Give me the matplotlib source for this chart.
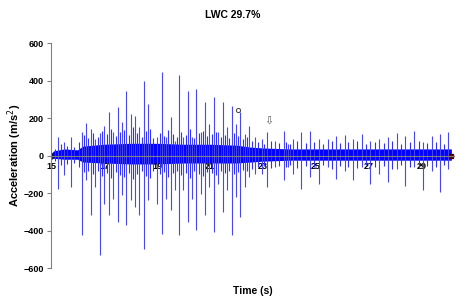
import matplotlib
matplotlib.use("Agg")
import matplotlib.pyplot as plt

plt.rcParams['font.family'] = ['Liberation Sans', 'DejaVu Sans']

# -------------------------------
# data
# -------------------------------
title = "LWC 29.7%"
x_label = "Time (s)"
y_label = "Acceleration (m/s$^2$)"
x_ticks = [15, 17, 19, 21, 23, 25, 27, 29]
y_ticks = [-600, -400, -200, 0, 200, 400, 600]

# big impact spikes: time (s), top and bottom of each spike (m/s2)
spike_t = [15.28, 15.49, 15.75, 16.16, 16.32, 16.50, 16.66, 16.85, 17.01, 17.18,
           17.35, 17.52, 17.68, 17.84, 18.02, 18.18, 18.33, 18.51, 18.67, 18.99,
           19.18, 19.34, 19.52, 19.68, 19.83, 19.99, 20.16, 20.31, 20.48, 20.66,
           20.81, 20.97, 21.14, 21.31, 21.49, 21.64, 21.82, 21.97, 22.14, 22.32,
           22.48, 22.70, 22.95, 23.14, 23.45, 23.77, 23.93, 24.11, 24.42, 24.77,
           25.09, 25.44, 25.75, 26.07, 26.38, 26.72, 27.04, 27.38, 27.71, 28.05,
           28.36, 28.71, 29.03, 29.37, 29.68, 29.99]
spike_hi = [98, 71, 101, 124, 172, 142, 89, 119, 160, 230,
            124, 257, 177, 346, 221, 213, 150, 399, 275, 98,
            443, 98, 204, 80, 431, 98, 346, 98, 355, 124,
            284, 168, 310, 124, 284, 150, 266, 168, 230, 115,
            160, 98, 89, 124, 80, 130, 62, 89, 124, 133,
            89, 89, 106, 111, 89, 115, 80, 89, 98, 119,
            106, 130, 71, 106, 115, 124]
spike_lo = [-177, -106, -168, -426, -133, -319, -168, -532, -257, -319,
            -230, -355, -213, -372, -239, -275, -319, -496, -239, -257,
            -417, -230, -293, -186, -426, -186, -355, -230, -399, -204,
            -319, -168, -408, -151, -301, -186, -426, -222, -328, -168,
            -115, -97, -97, -168, -62, -133, -62, -97, -177, -115,
            -151, -62, -124, -80, -133, -62, -151, -97, -142, -71,
            -160, -62, -186, -80, -195, -71]

# smaller bursts sitting in the noise band
minor_t = [15.15, 15.38, 15.62, 15.88, 16.05, 16.24, 16.41, 16.58, 16.76, 16.93,
           17.10, 17.27, 17.44, 17.60, 17.76, 17.93, 18.10, 18.26, 18.42, 18.59,
           18.75, 18.85, 19.10, 19.26, 19.43, 19.60, 19.76, 19.91, 20.08, 20.24,
           20.40, 20.57, 20.73, 20.89, 21.06, 21.22, 21.40, 21.56, 21.73, 21.90,
           22.06, 22.23, 22.40, 22.59, 22.82, 23.05, 23.30, 23.61, 23.85, 24.02,
           24.26, 24.60, 24.93, 25.26, 25.60, 25.91, 26.22, 26.55, 26.88, 27.21,
           27.55, 27.88, 28.20, 28.53, 28.87, 29.20, 29.52, 29.84]
minor_hi = [35, 60, 50, 45, 70, 110, 95, 120, 100, 130,
            115, 140, 105, 125, 135, 110, 150, 120, 100, 130,
            140, 95, 120, 105, 135, 115, 100, 125, 110, 140,
            95, 120, 130, 105, 115, 125, 100, 110, 95, 120,
            105, 90, 100, 80, 70, 60, 75, 65, 70, 60,
            75, 65, 70, 60, 80, 65, 70, 75, 60, 70,
            65, 80, 60, 70, 75, 65, 70, 60]
minor_lo = [-30, -50, -45, -40, -60, -90, -80, -100, -85, -110,
            -95, -120, -90, -105, -115, -95, -125, -100, -85, -110,
            -120, -80, -100, -90, -115, -95, -85, -105, -95, -120,
            -80, -100, -110, -90, -95, -105, -85, -95, -80, -100,
            -90, -75, -85, -70, -60, -55, -65, -55, -60, -50,
            -65, -55, -60, -50, -70, -55, -60, -65, -50, -60,
            -55, -70, -50, -60, -65, -55, -60, -50]

# dense vibration band around zero (upper / lower envelope)
band_t = [15.0, 15.1, 15.5, 16.0, 16.2, 17.0, 18.0, 19.0, 20.0, 21.0,
          22.0, 22.5, 23.0, 24.0, 25.0, 26.0, 27.0, 28.0, 29.0, 30.1]
band_hi = [10, 25, 35, 30, 50, 60, 65, 65, 60, 60,
           55, 45, 40, 35, 35, 35, 35, 35, 35, 35]
band_lo = [-10, -15, -20, -20, -35, -40, -45, -45, -40, -40,
           -40, -35, -30, -25, -25, -25, -25, -25, -25, -25]

# -------------------------------
# figure
# -------------------------------
fig = plt.figure(figsize=(4.65, 2.98), dpi=100)
ax = fig.add_axes([51 / 465, 30 / 298, 403 / 465, 225 / 298])

ax.vlines(spike_t, spike_lo, spike_hi, color="#4848ee", lw=0.8)
ax.vlines(minor_t, minor_lo, minor_hi, color="#3030f0", lw=0.8)
ax.fill_between(band_t, band_lo, band_hi, color="#0000ff", lw=0)

# markers at start / end and the two notes
ax.plot(15.0, 0, marker="o", ms=3.5, color="#101060")
ax.plot(30.1, 0, marker="s", ms=3, color="#500000")
ax.plot(22.06, 245, marker="o", ms=3, mfc="white", mec="#404040", mew=0.7)
ax.text(23.2, 185, "\u21e9", ha="center", va="center", fontsize=8,
        color="#606060", family="DejaVu Sans")

ax.set_xlim(15, 30.2)
ax.set_ylim(-600, 600)
ax.set_xticks(x_ticks)
ax.set_yticks(y_ticks)

for s in ["top", "right"]:
    ax.spines[s].set_visible(False)
ax.spines["bottom"].set_position(("data", 0))
ax.spines["bottom"].set_color("#808080")
ax.spines["left"].set_color("#808080")
ax.tick_params(axis="y", length=3, color="#808080", labelsize=6.5, pad=2)
ax.tick_params(axis="x", length=0, labelsize=6.5, pad=5)
for lab in ax.get_xticklabels() + ax.get_yticklabels():
    lab.set_fontweight("bold")

ax.set_xlabel(x_label, fontsize=7.5, fontweight="bold")
ax.xaxis.set_label_coords(0.5, -0.08)
ax.set_ylabel(y_label, fontsize=8, fontweight="bold", labelpad=0)
fig.text(0.5, 0.95, title, ha="center", va="center", fontsize=7.5, fontweight="bold")

fig.savefig("out.png", dpi=100)
